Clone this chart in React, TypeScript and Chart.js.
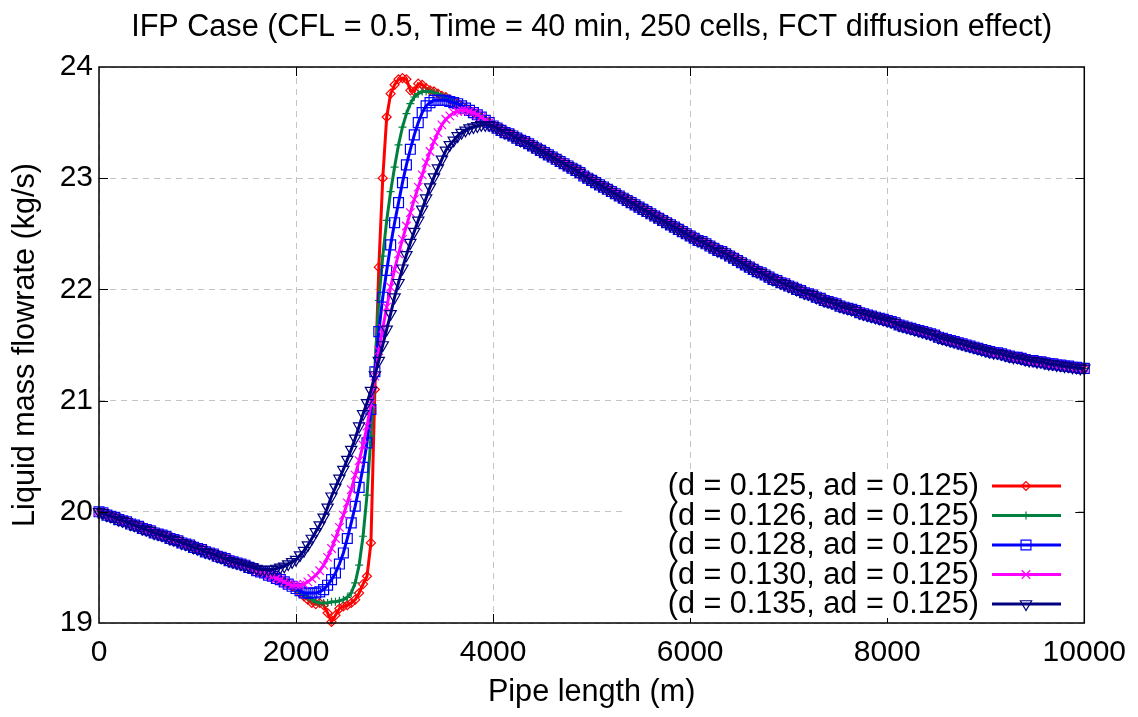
import React, { useEffect, useRef } from 'react';
import { Chart, registerables } from 'chart.js';

Chart.register(...registerables);

// ---------- data ----------
const CELL_STEP = 40; // m, 250 cells over 10000 m
const X_TICKS = [0, 2000, 4000, 6000, 8000, 10000];
const Y_TICKS = [19, 20, 21, 22, 23, 24];

const SERIES_LABELS = [
  '(d = 0.125, ad = 0.125)',
  '(d = 0.126, ad = 0.125)',
  '(d = 0.128, ad = 0.125)',
  '(d = 0.130, ad = 0.125)',
  '(d = 0.135, ad = 0.125)',
];

// 0 .. 1400 m (all runs coincide)
const COMMON_UPSTREAM = [
  20.00, 19.99, 19.97, 19.96, 19.95, 19.93, 19.92, 19.91, 19.89, 19.88,
  19.87, 19.85, 19.84, 19.83, 19.81, 19.80, 19.79, 19.78, 19.76, 19.75,
  19.74, 19.72, 19.71, 19.70, 19.68, 19.67, 19.66, 19.64, 19.63, 19.62,
  19.60, 19.59, 19.58, 19.56, 19.55, 19.54,
];

// 1440 .. 4360 m
const RED_MID = [
  19.53, 19.52, 19.50, 19.49, 19.47, 19.46, 19.45, 19.43, 19.42, 19.40,
  19.39, 19.37, 19.35, 19.33, 19.31, 19.27, 19.24, 19.21, 19.18, 19.17,
  19.18, 19.16, 19.09, 19.01, 19.07, 19.13, 19.15, 19.16, 19.18, 19.21,
  19.27, 19.35, 19.42, 19.72, 21.10, 22.20, 23.00, 23.55, 23.76, 23.84,
  23.89, 23.90, 23.89, 23.79, 23.78, 23.85, 23.84, 23.81, 23.79, 23.78,
  23.76, 23.74, 23.73, 23.71, 23.69, 23.67, 23.65, 23.63, 23.61, 23.59,
  23.57, 23.55, 23.52, 23.50, 23.47, 23.45, 23.43, 23.41, 23.40, 23.38,
  23.36, 23.34, 23.33, 23.31,
];
const GREEN_MID = [
  19.53, 19.52, 19.50, 19.49, 19.47, 19.46, 19.45, 19.43, 19.42, 19.40,
  19.39, 19.37, 19.35, 19.33, 19.31, 19.28, 19.25, 19.23, 19.21, 19.19,
  19.18, 19.18, 19.18, 19.19, 19.19, 19.20, 19.21, 19.23, 19.27, 19.36,
  19.52, 19.78, 20.15, 20.68, 21.30, 21.90, 22.30, 22.62, 22.88, 23.10,
  23.30, 23.46, 23.58, 23.67, 23.73, 23.76, 23.78, 23.78, 23.78, 23.77,
  23.76, 23.74, 23.73, 23.71, 23.69, 23.67, 23.65, 23.63, 23.61, 23.59,
  23.57, 23.55, 23.52, 23.50, 23.47, 23.45, 23.43, 23.41, 23.40, 23.38,
  23.36, 23.34, 23.33, 23.31,
];
const BLUE_MID = [
  19.53, 19.52, 19.50, 19.49, 19.47, 19.46, 19.45, 19.43, 19.42, 19.40,
  19.39, 19.37, 19.35, 19.33, 19.31, 19.29, 19.27, 19.27, 19.27, 19.27,
  19.28, 19.30, 19.34, 19.39, 19.45, 19.53, 19.63, 19.76, 19.90, 20.05,
  20.22, 20.40, 20.62, 20.92, 21.26, 21.62, 21.93, 22.17, 22.40, 22.60,
  22.78, 22.96, 23.12, 23.26, 23.39, 23.50, 23.59, 23.65, 23.68, 23.70,
  23.70, 23.70, 23.70, 23.69, 23.68, 23.67, 23.65, 23.63, 23.61, 23.59,
  23.57, 23.55, 23.52, 23.50, 23.47, 23.45, 23.43, 23.41, 23.40, 23.38,
  23.36, 23.34, 23.33, 23.31,
];
const MAGENTA_MID = [
  19.53, 19.52, 19.50, 19.49, 19.47, 19.46, 19.45, 19.43, 19.42, 19.40,
  19.39, 19.37, 19.35, 19.34, 19.34, 19.34, 19.35, 19.37, 19.40, 19.43,
  19.47, 19.52, 19.59, 19.67, 19.76, 19.86, 19.97, 20.08, 20.20, 20.33,
  20.46, 20.60, 20.77, 20.97, 21.22, 21.45, 21.65, 21.84, 22.02, 22.18,
  22.32, 22.45, 22.57, 22.69, 22.81, 22.92, 23.03, 23.14, 23.24, 23.33,
  23.41, 23.48, 23.53, 23.56, 23.59, 23.60, 23.61, 23.61, 23.60, 23.59,
  23.57, 23.55, 23.52, 23.50, 23.47, 23.45, 23.43, 23.41, 23.40, 23.38,
  23.36, 23.34, 23.33, 23.31,
];
const NAVY_MID = [
  19.53, 19.52, 19.51, 19.50, 19.49, 19.48, 19.48, 19.48, 19.48, 19.49,
  19.50, 19.51, 19.53, 19.55, 19.57, 19.61, 19.65, 19.70, 19.76, 19.82,
  19.88, 19.95, 20.04, 20.14, 20.22, 20.30, 20.38, 20.47, 20.56, 20.66,
  20.77, 20.88, 20.98, 21.09, 21.23, 21.36, 21.50, 21.64, 21.78, 21.93,
  22.06, 22.19, 22.31, 22.42, 22.52, 22.62, 22.72, 22.82, 22.92, 23.01,
  23.09, 23.17, 23.25, 23.30, 23.34, 23.38, 23.41, 23.43, 23.45, 23.46,
  23.47, 23.48, 23.48, 23.48, 23.47, 23.45, 23.43, 23.41, 23.40, 23.38,
  23.36, 23.34, 23.33, 23.31,
];

// 4400 .. 10000 m (all runs coincide)
const COMMON_DOWNSTREAM = [
  23.29, 23.27, 23.25, 23.23, 23.21, 23.19, 23.17, 23.15, 23.13, 23.11,
  23.09, 23.07, 23.05, 23.02, 23.00, 22.98, 22.96, 22.94, 22.92, 22.90,
  22.88, 22.86, 22.84, 22.82, 22.80, 22.78, 22.76, 22.74, 22.72, 22.70,
  22.68, 22.66, 22.64, 22.62, 22.60, 22.58, 22.56, 22.54, 22.52, 22.50,
  22.48, 22.46, 22.44, 22.43, 22.41, 22.39, 22.37, 22.35, 22.34, 22.32,
  22.30, 22.28, 22.26, 22.24, 22.22, 22.20, 22.18, 22.16, 22.15, 22.13,
  22.11, 22.09, 22.08, 22.06, 22.05, 22.03, 22.02, 22.00, 21.99, 21.97,
  21.96, 21.95, 21.93, 21.92, 21.90, 21.89, 21.88, 21.87, 21.85, 21.84,
  21.83, 21.82, 21.81, 21.79, 21.78, 21.77, 21.76, 21.75, 21.74, 21.73,
  21.72, 21.71, 21.70, 21.68, 21.67, 21.66, 21.65, 21.64, 21.63, 21.62,
  21.61, 21.60, 21.59, 21.57, 21.56, 21.55, 21.54, 21.53, 21.52, 21.51,
  21.50, 21.49, 21.48, 21.47, 21.46, 21.45, 21.44, 21.43, 21.43, 21.42,
  21.41, 21.40, 21.39, 21.39, 21.38, 21.37, 21.36, 21.36, 21.35, 21.35,
  21.34, 21.33, 21.33, 21.32, 21.32, 21.31, 21.31, 21.30, 21.30, 21.29,
  21.29,
];

const MIDS = [RED_MID, GREEN_MID, BLUE_MID, MAGENTA_MID, NAVY_MID];

// ---------- style ----------
const FONT_FAMILY = '"Liberation Sans", Arial, Helvetica, sans-serif';
const TEXT_SIZE = 30.6;
const COLORS = ['#ff0000', '#008040', '#0000ff', '#ff00ff', '#000080'];
const STYLES = [
  { pointStyle: 'rectRot', radius: 4.5, rotation: 0 },
  { pointStyle: 'cross', radius: 4, rotation: 0 },
  { pointStyle: 'rect', radius: 7, rotation: 0 },
  { pointStyle: 'crossRot', radius: 6, rotation: 0 },
  { pointStyle: 'triangle', radius: 6.5, rotation: 180 },
];

function drawMarker(ctx: CanvasRenderingContext2D, style: string, x: number, y: number, r: number, color: string) {
  ctx.save();
  ctx.strokeStyle = color;
  ctx.lineWidth = 1.2;
  ctx.setLineDash([]);
  ctx.beginPath();
  if (style === 'rectRot') {
    ctx.moveTo(x - r, y); ctx.lineTo(x, y - r); ctx.lineTo(x + r, y); ctx.lineTo(x, y + r); ctx.closePath();
  } else if (style === 'cross') {
    ctx.moveTo(x - r, y); ctx.lineTo(x + r, y); ctx.moveTo(x, y - r); ctx.lineTo(x, y + r);
  } else if (style === 'rect') {
    const s = r * Math.SQRT1_2;
    ctx.rect(x - s, y - s, 2 * s, 2 * s);
  } else if (style === 'crossRot') {
    const s = r * Math.SQRT1_2;
    ctx.moveTo(x - s, y - s); ctx.lineTo(x + s, y + s); ctx.moveTo(x - s, y + s); ctx.lineTo(x + s, y - s);
  } else {
    const k = Math.sin(Math.PI / 3) * r;
    ctx.moveTo(x, y + r); ctx.lineTo(x - k, y - r / 2); ctx.lineTo(x + k, y - r / 2); ctx.closePath();
  }
  ctx.stroke();
  ctx.restore();
}

const decorPlugin = {
  id: 'decor',
  afterDraw(chart: any) {
    const { ctx, chartArea: a, scales } = chart;
    ctx.save();
    ctx.setLineDash([]);
    // frame
    ctx.strokeStyle = '#000';
    ctx.lineWidth = 1.5;
    ctx.strokeRect(a.left, a.top, a.right - a.left, a.bottom - a.top);
    // inner ticks on all four sides
    ctx.lineWidth = 1;
    ctx.beginPath();
    Y_TICKS.slice(1, -1).forEach((v) => {
      const y = Math.round(scales.y.getPixelForValue(v)) + 0.5;
      ctx.moveTo(a.left, y); ctx.lineTo(a.left + 9, y);
      ctx.moveTo(a.right - 9, y); ctx.lineTo(a.right, y);
    });
    X_TICKS.slice(1, -1).forEach((v) => {
      const x = Math.round(scales.x.getPixelForValue(v)) + 0.5;
      ctx.moveTo(x, a.bottom); ctx.lineTo(x, a.bottom - 9);
      ctx.moveTo(x, a.top); ctx.lineTo(x, a.top + 9);
    });
    ctx.stroke();

    // title
    ctx.fillStyle = '#000';
    ctx.font = `${TEXT_SIZE}px ${FONT_FAMILY}`;
    ctx.textAlign = 'center';
    ctx.textBaseline = 'alphabetic';
    const cx = (a.left + a.right) / 2;
    ctx.fillText('IFP Case (CFL = 0.5, Time = 40 min, 250 cells, FCT diffusion effect)', cx, 36);
    // x axis title
    ctx.fillText('Pipe length (m)', cx, 701);
    // y axis title
    ctx.save();
    ctx.translate(34, (a.top + a.bottom) / 2);
    ctx.rotate(-Math.PI / 2);
    ctx.fillText('Liquid mass flowrate (kg/s)', 0, 0);
    ctx.restore();

    // key
    ctx.fillStyle = '#fff';
    ctx.fillRect(627, 470, 446, 148);
    ctx.textAlign = 'right';
    ctx.textBaseline = 'middle';
    SERIES_LABELS.forEach((label, i) => {
      const y = 486 + i * 29.5;
      ctx.fillStyle = '#000';
      ctx.fillText(label, 979, y + 1);
      ctx.strokeStyle = COLORS[i];
      ctx.lineWidth = 3;
      ctx.beginPath();
      ctx.moveTo(992, y); ctx.lineTo(1061, y);
      ctx.stroke();
      drawMarker(ctx, STYLES[i].pointStyle, 1026, y, STYLES[i].radius, COLORS[i]);
    });
    ctx.restore();
  },
};

export default function App() {
  const ref = useRef<HTMLCanvasElement | null>(null);

  useEffect(() => {
    if (!ref.current) return;
    const datasets = MIDS.map((mid, i) => {
      const values = [...COMMON_UPSTREAM, ...mid, ...COMMON_DOWNSTREAM];
      return {
        label: SERIES_LABELS[i],
        data: values.map((y, j) => ({ x: j * CELL_STEP, y })),
        borderColor: COLORS[i],
        borderWidth: 3,
        pointStyle: STYLES[i].pointStyle,
        pointRadius: STYLES[i].radius,
        pointRotation: STYLES[i].rotation,
        pointBorderColor: COLORS[i],
        pointBackgroundColor: 'rgba(0,0,0,0)',
        pointBorderWidth: 1.2,
        pointHoverRadius: STYLES[i].radius,
        tension: 0,
        clip: 10,
        order: SERIES_LABELS.length - i,
      };
    });

    const tickFont = { family: FONT_FAMILY, size: 30 };
    const chart = new Chart(ref.current, {
      type: 'line',
      data: { datasets },
      plugins: [decorPlugin],
      options: {
        animation: false,
        responsive: false,
        maintainAspectRatio: false,
        devicePixelRatio: 1,
        layout: { padding: { left: 0, right: 49, top: 67, bottom: 0 } },
        plugins: {
          legend: { display: false },
          title: { display: false },
          tooltip: { enabled: false },
        },
        scales: {
          x: {
            type: 'linear',
            min: 0,
            max: 10000,
            afterBuildTicks: (s: any) => { s.ticks = X_TICKS.map((v) => ({ value: v })); },
            afterFit: (s: any) => { s.height = 94; },
            grid: { color: '#c4c4c4', lineWidth: 1, drawTicks: false },
            border: { display: false, dash: [6, 5] },
            ticks: {
              font: tickFont,
              color: '#000',
              padding: 12,
              maxRotation: 0,
              autoSkip: false,
              callback: (v: any) => String(v),
            },
          },
          y: {
            type: 'linear',
            min: 19,
            max: 24,
            afterBuildTicks: (s: any) => { s.ticks = Y_TICKS.map((v) => ({ value: v })); },
            afterFit: (s: any) => { s.width = 99; },
            grid: { color: '#c4c4c4', lineWidth: 1, drawTicks: false },
            border: { display: false, dash: [6, 5] },
            ticks: { font: tickFont, color: '#000', padding: 6, autoSkip: false, callback: (v: any) => String(v) },
          },
        },
      },
    } as any);
    return () => chart.destroy();
  }, []);

  return (
    <div style={{ position: 'fixed', left: 0, top: 0, width: 1138, height: 717, background: '#fff' }}>
      <canvas ref={ref} width={1138} height={717} style={{ width: 1138, height: 717, display: 'block' }} />
    </div>
  );
}
